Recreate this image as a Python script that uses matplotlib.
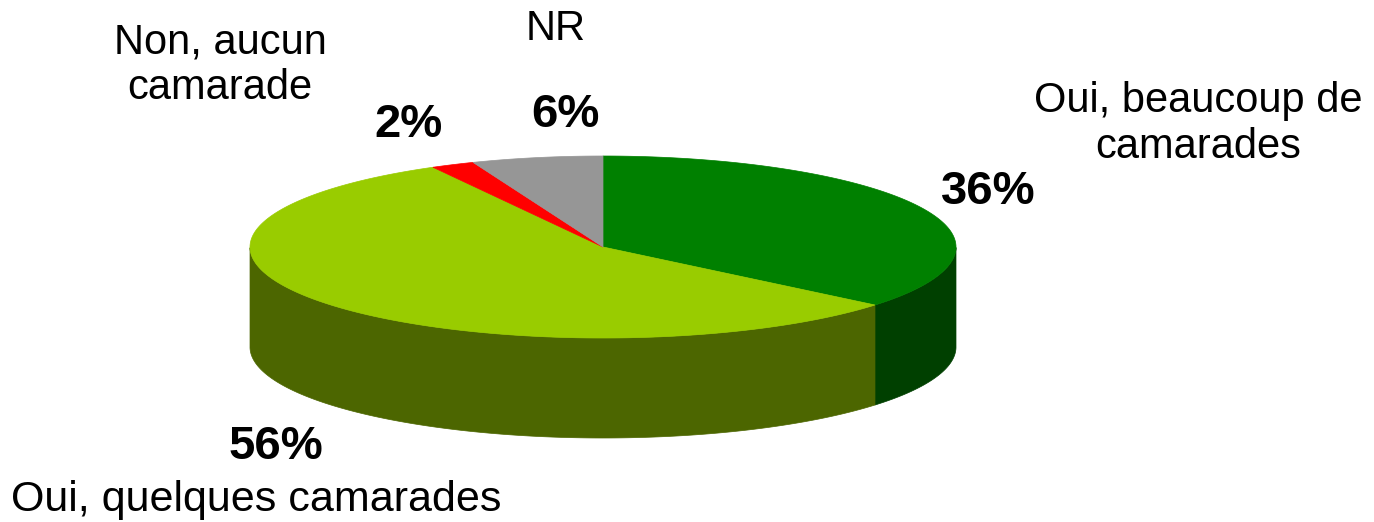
import numpy as np
import matplotlib
matplotlib.use("Agg")
from matplotlib import pyplot as plt
from matplotlib.patches import Polygon

# data
labels = ["Oui, beaucoup de\ncamarades", "Oui, quelques camarades", "Non, aucun\ncamarade", "NR"]
values = [36, 56, 2, 6]
top_colors = ["#008000", "#99CC00", "#FF0000", "#969696"]
side_colors = ["#004000", "#4C6600", "#800000", "#4B4B4B"]

# pie geometry (pixels)
cx, cy = 603, 247
a, b = 353, 91
depth = 100

plt.rcParams['font.family'] = ['Liberation Sans', 'DejaVu Sans']

fig = plt.figure(figsize=(13.74, 5.22), dpi=100)
ax = fig.add_axes([0, 0, 1, 1])
ax.set_xlim(0, 1374)
ax.set_ylim(522, 0)
ax.axis('off')


def pt(t, dy=0):
    return cx + a * np.cos(t), cy - b * np.sin(t) + dy


# angles: start at 12 o'clock, clockwise
fracs = np.array(values) / sum(values)
starts = np.pi / 2 - 2 * np.pi * np.concatenate([[0], np.cumsum(fracs)[:-1]])
ends = starts - 2 * np.pi * fracs

# side walls (front half only)
for s, e, col in zip(starts, ends, side_colors):
    ts = np.linspace(s, e, 400)
    tm = np.mod(ts, 2 * np.pi)
    vis = tm >= np.pi
    if vis.sum() < 2:
        continue
    tv = ts[vis]
    xs, ys = pt(tv)
    xb, yb = pt(tv[::-1], depth)
    poly = np.column_stack([np.concatenate([xs, xb]), np.concatenate([ys, yb])])
    ax.add_patch(Polygon(poly, closed=True, facecolor=col, edgecolor=col, lw=0.5))

# tops
for s, e, col in zip(starts, ends, top_colors):
    ts = np.linspace(s, e, 300)
    xs, ys = pt(ts)
    poly = np.column_stack([np.concatenate([[cx], xs]), np.concatenate([[cy], ys])])
    ax.add_patch(Polygon(poly, closed=True, facecolor=col, edgecolor=col, lw=0.5))

# labels
pct_pos = [(988, 192), (276, 447), (408, 125), (565, 115)]
name_pos = [(1198, 124), (256, 500), (220, 65), (556, 29)]
name_size = [30, 31, 30, 30]
for v, (x, y) in zip(values, pct_pos):
    ax.text(x, y, '{}%'.format(v), fontsize=34, fontweight='bold', ha='center', va='center')
for lab, (x, y), fs in zip(labels, name_pos, name_size):
    ax.text(x, y, lab, fontsize=fs, ha='center', va='center', linespacing=1.17)

fig.savefig('out.png', dpi=100)
